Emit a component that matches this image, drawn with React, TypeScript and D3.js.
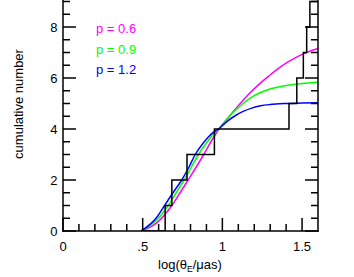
import React from "react";
import * as d3 from "d3";

// observed cumulative counts (step positions in log theta_E)
const stepX = [0.641, 0.683, 0.778, 0.95, 1.418, 1.467, 1.508, 1.529, 1.549];

const curveX06 = [0.49, 0.59, 0.683, 0.735, 0.785, 0.835, 0.883, 0.93, 0.985, 1.04, 1.1, 1.16, 1.226, 1.29, 1.352, 1.415, 1.478, 1.54, 1.6];
const curveY06 = [0, 0.33, 1, 1.5, 2, 2.5, 3, 3.52, 4.05, 4.47, 4.91, 5.33, 5.73, 6.07, 6.38, 6.64, 6.86, 7.03, 7.16];

const curveX09 = [0.49, 0.59, 0.66, 0.71, 0.76, 0.805, 0.85, 0.9, 0.945, 0.985, 1.03, 1.08, 1.13, 1.184, 1.24, 1.289, 1.394, 1.5, 1.6];
const curveY09 = [0, 0.44, 1, 1.5, 2, 2.5, 3, 3.45, 3.8, 4.05, 4.4, 4.72, 5.0, 5.25, 5.43, 5.55, 5.7, 5.78, 5.83];

const curveX12 = [0.49, 0.59, 0.637, 0.69, 0.745, 0.79, 0.83, 0.88, 0.93, 0.985, 1.03, 1.08, 1.13, 1.184, 1.24, 1.3, 1.4, 1.5, 1.6];
const curveY12 = [0, 0.55, 1, 1.5, 2, 2.5, 3, 3.45, 3.8, 4.05, 4.3, 4.52, 4.69, 4.82, 4.91, 4.96, 5.0, 5.02, 5.03];

const series = [
  { label: "p = 0.6", color: "#ff00ff", xs: curveX06, ys: curveY06 },
  { label: "p = 0.9", color: "#00ff00", xs: curveX09, ys: curveY09 },
  { label: "p = 1.2", color: "#0000ff", xs: curveX12, ys: curveY12 },
];

const xTickLabels = ["0", ".5", "1", "1.5"];
const xTickVals = [0, 0.5, 1, 1.5];
const yTickVals = [0, 2, 4, 6, 8];

const W = 354;
const H = 277;
const left = 63;
const right = 318;
const bottom = 231;

export default function App() {
  const x = d3.scaleLinear().domain([0, 1.6]).range([left, right]);
  const y = d3.scaleLinear().domain([0, 9]).range([bottom, bottom - 9 * 25.5]);

  const line = d3
    .line<[number, number]>()
    .x((d) => x(d[0]))
    .y((d) => y(d[1]))
    .curve(d3.curveMonotoneX);

  // step function as points
  const stepPts: [number, number][] = [[0.5, 0]];
  stepX.forEach((sx, i) => {
    stepPts.push([sx, i]);
    stepPts.push([sx, i + 1]);
  });
  stepPts.push([1.6, stepX.length]);
  const stepLine = d3
    .line<[number, number]>()
    .x((d) => x(d[0]))
    .y((d) => y(d[1]));

  const xMinor = d3.range(0, 16).map((i) => i / 10);
  const yMinor = d3.range(0, 19).map((i) => i / 2);
  const font = "Liberation Sans, Arial, sans-serif";

  return (
    <svg
      width={W}
      height={H}
      style={{ position: "absolute", left: 0, top: 0, background: "#fff" }}
      fontFamily={font}
    >
      <defs>
        <clipPath id="plot">
          <rect x={left} y={0} width={right - left} height={bottom} />
        </clipPath>
      </defs>

      <g clipPath="url(#plot)" fill="none" strokeWidth={1.5}>
        {series.map((s) => (
          <path
            key={s.label}
            d={line(s.xs.map((v, i) => [v, s.ys[i]] as [number, number])) ?? ""}
            stroke={s.color}
          />
        ))}
        <path d={stepLine(stepPts) ?? ""} stroke="#000" />
      </g>

      {/* axes frame */}
      <g stroke="#000" strokeWidth={1.5} fill="none">
        <line x1={left} x2={left} y1={0} y2={bottom + 0.75} />
        <line x1={right} x2={right} y1={0} y2={bottom + 0.75} />
        <line x1={left - 0.75} x2={right + 0.75} y1={bottom} y2={bottom} />
        {xMinor.map((v) => {
          const major = Math.abs(v * 2 - Math.round(v * 2)) < 1e-6;
          return <line key={"xt" + v} x1={x(v)} x2={x(v)} y1={bottom} y2={bottom - (major ? 13 : 7)} />;
        })}
        {yMinor.map((v) => {
          const major = Math.abs(v / 2 - Math.round(v / 2)) < 1e-6;
          const len = major ? 13 : 7;
          return (
            <g key={"yt" + v}>
              <line x1={left} x2={left + len} y1={y(v)} y2={y(v)} />
              <line x1={right} x2={right - len} y1={y(v)} y2={y(v)} />
            </g>
          );
        })}
      </g>

      <g fontSize={13} fill="#000">
        {xTickVals.map((v, i) => (
          <text key={"xl" + v} x={x(v)} y={250.5} textAnchor="middle">
            {xTickLabels[i]}
          </text>
        ))}
        {yTickVals.map((v) => (
          <text key={"yl" + v} x={57.5} y={y(v) + 4.8} textAnchor="end">
            {v}
          </text>
        ))}
        <text x={190} y={268.5} textAnchor="middle">
          log(θ
          <tspan fontSize={8.5} dy={3}>E</tspan>
          <tspan dy={-3}>/μas)</tspan>
        </text>
        <text transform={`translate(23,104) rotate(-90)`} textAnchor="middle">
          cumulative number
        </text>
      </g>

      <g fontSize={13}>
        {series.map((s, i) => (
          <text key={"lg" + s.label} x={96} y={33 + i * 20.5} fill={s.color}>
            {s.label}
          </text>
        ))}
      </g>
    </svg>
  );
}
